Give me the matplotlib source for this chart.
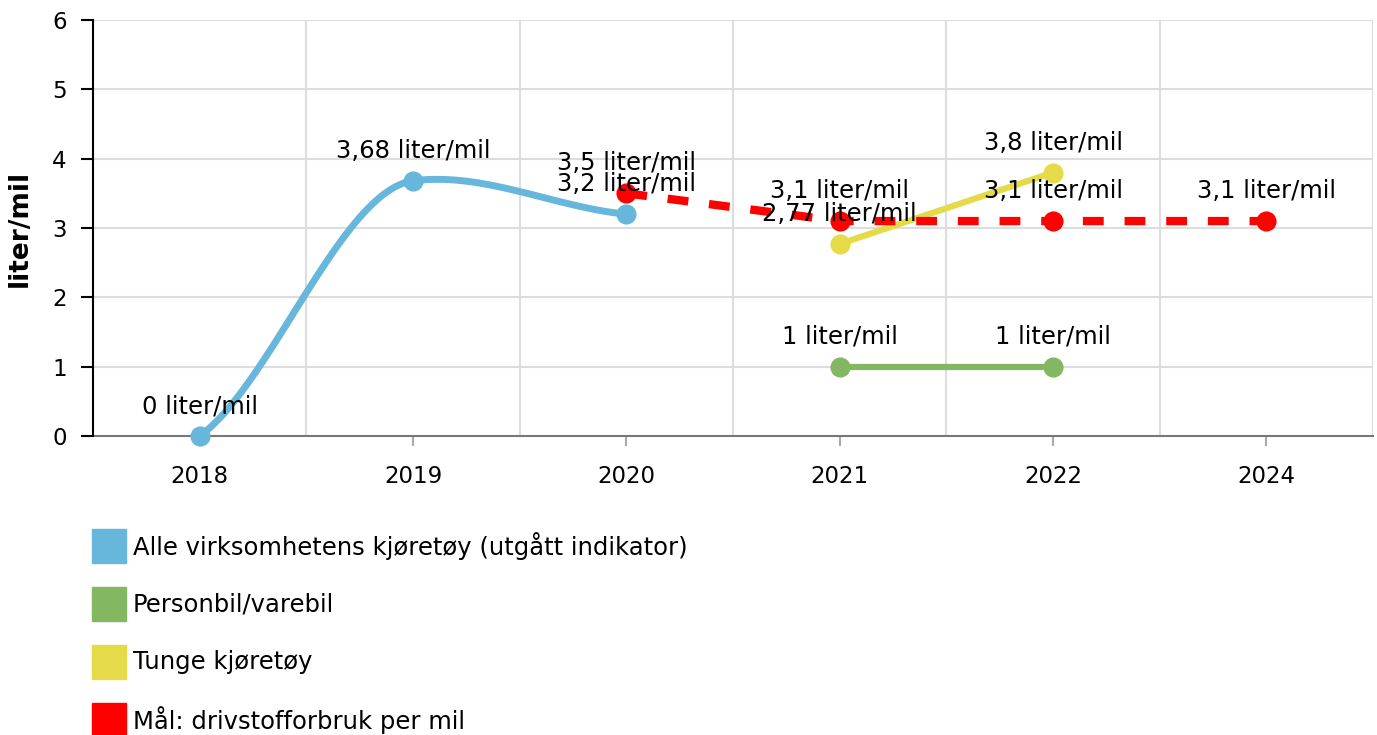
import numpy as np
import matplotlib
matplotlib.use("Agg")
import matplotlib.pyplot as plt
from matplotlib.patches import Rectangle

# ---- data ----
categories = ["2018", "2019", "2020", "2021", "2022", "2024"]
alle_x = ["2018", "2019", "2020"]
alle_y = [0, 3.68, 3.2]
person_x = ["2021", "2022"]
person_y = [1, 1]
tunge_x = ["2021", "2022"]
tunge_y = [2.77, 3.8]
maal_x = ["2020", "2021", "2022", "2024"]
maal_y = [3.5, 3.1, 3.1, 3.1]
legend_labels = ["Alle virksomhetens kjøretøy (utgått indikator)",
                 "Personbil/varebil", "Tunge kjøretøy",
                 "Mål: drivstofforbruk per mil"]
y_ticks = [0, 1, 2, 3, 4, 5, 6]
unit = "liter/mil"

C_BLUE = "#67b7dc"
C_GREEN = "#84b761"
C_YELLOW = "#e5da47"
C_RED = "#ff0000"
FS_TICK = 16.5
FS_LAB = 17.5
FS_YLAB = 19

plt.rcParams["font.family"] = ["DejaVu Sans"]

W, H = 1377, 735
fig = plt.figure(figsize=(W / 100, H / 100), dpi=100)
ax = fig.add_axes([93 / W, 1 - 436 / H, (1373 - 93) / W, (436 - 20) / H])

pos = {c: i for i, c in enumerate(categories)}


def smooth(xs, ys, n=60):
    xs = np.asarray(xs, float)
    ys = np.asarray(ys, float)
    m = np.zeros_like(ys)
    for i in range(len(ys)):
        if i == 0:
            m[i] = 0.6 * (ys[1] - ys[0]) / (xs[1] - xs[0])
        elif i == len(ys) - 1:
            m[i] = 0.6 * (ys[-1] - ys[-2]) / (xs[-1] - xs[-2])
        else:
            m[i] = 0.25 * (ys[i + 1] - ys[i - 1]) / (xs[i + 1] - xs[i - 1])
    px, py = [], []
    for i in range(len(ys) - 1):
        h = xs[i + 1] - xs[i]
        t = np.linspace(0, 1, n)
        h00 = 2 * t**3 - 3 * t**2 + 1
        h10 = t**3 - 2 * t**2 + t
        h01 = -2 * t**3 + 3 * t**2
        h11 = t**3 - t**2
        py.append(h00 * ys[i] + h10 * h * m[i] + h01 * ys[i + 1] + h11 * h * m[i + 1])
        px.append(xs[i] + t * h)
    return np.concatenate(px), np.concatenate(py)


def fmt(v):
    return f"{v:g}".replace(".", ",") + " " + unit


def labels(xs, ys):
    for x, y in zip(xs, ys):
        ax.annotate(fmt(y), (pos[x], y), xytext=(0, 21.5), textcoords="offset points",
                    ha="center", va="center", fontsize=FS_LAB, color="black", zorder=10)


# blue smoothed
bx = [pos[c] for c in alle_x]
sx, sy = smooth(bx, alle_y)
ax.plot(sx, sy, color=C_BLUE, lw=5, solid_capstyle="round", zorder=3, clip_on=False)
ax.plot(bx, alle_y, "o", color=C_BLUE, ms=13.5, zorder=3.5, clip_on=False)

# green
ax.plot([pos[c] for c in person_x], person_y, color=C_GREEN, lw=4.5, marker="o", ms=13.5, zorder=4)
# yellow
ax.plot([pos[c] for c in tunge_x], tunge_y, color=C_YELLOW, lw=4.5, marker="o", ms=13.5, zorder=5)
# red dashed
ax.plot([pos[c] for c in maal_x], maal_y, color=C_RED, lw=6, dashes=(2.5, 2.5),
        dash_capstyle="butt", zorder=6)
ax.plot([pos[c] for c in maal_x], maal_y, "o", color=C_RED, ms=13.5, zorder=6.5)

labels(alle_x, alle_y)
labels(person_x, person_y)
labels(tunge_x, tunge_y)
labels(maal_x, maal_y)

ax.set_xlim(-0.5, len(categories) - 0.5)
ax.set_ylim(0, 6)
ax.set_yticks(y_ticks)
ax.set_yticklabels([str(v) for v in y_ticks], fontsize=FS_TICK)
ax.set_xticks(range(len(categories)))
ax.set_xticklabels(categories, fontsize=FS_TICK)

ax.grid(False)
for v in y_ticks[1:]:
    ax.axhline(v, color="#dddddd", lw=1.5, zorder=0)
for v in np.arange(0.5, len(categories), 1):
    ax.axvline(v, color="#dddddd", lw=1.5, zorder=0)

for s in ["top", "right"]:
    ax.spines[s].set_visible(False)
ax.spines["left"].set_color("black")
ax.spines["left"].set_linewidth(1.5)
ax.spines["bottom"].set_color("#777777")
ax.spines["bottom"].set_linewidth(1.5)
ax.spines["bottom"].set_zorder(2)
ax.tick_params(axis="y", length=9, width=1.5, color="black", pad=10)
ax.tick_params(axis="x", which="major", length=7, width=1.5, color="#aaaaaa", pad=14)

fig.text(20 / W, 1 - 228 / H, unit, rotation=90, ha="center", va="center",
         fontsize=FS_YLAB, fontweight="bold")

# legend
colors = [C_BLUE, C_GREEN, C_YELLOW, C_RED]
for i, (lab, col) in enumerate(zip(legend_labels, colors)):
    yc = 546 + i * 58
    fig.patches.append(Rectangle((92 / W, 1 - (yc + 17) / H), 34 / W, 34 / H,
                                 transform=fig.transFigure, color=col, figure=fig))
    fig.text(133 / W, 1 - yc / H, lab, ha="left", va="center", fontsize=FS_LAB)

fig.savefig("out.png", dpi=100)
